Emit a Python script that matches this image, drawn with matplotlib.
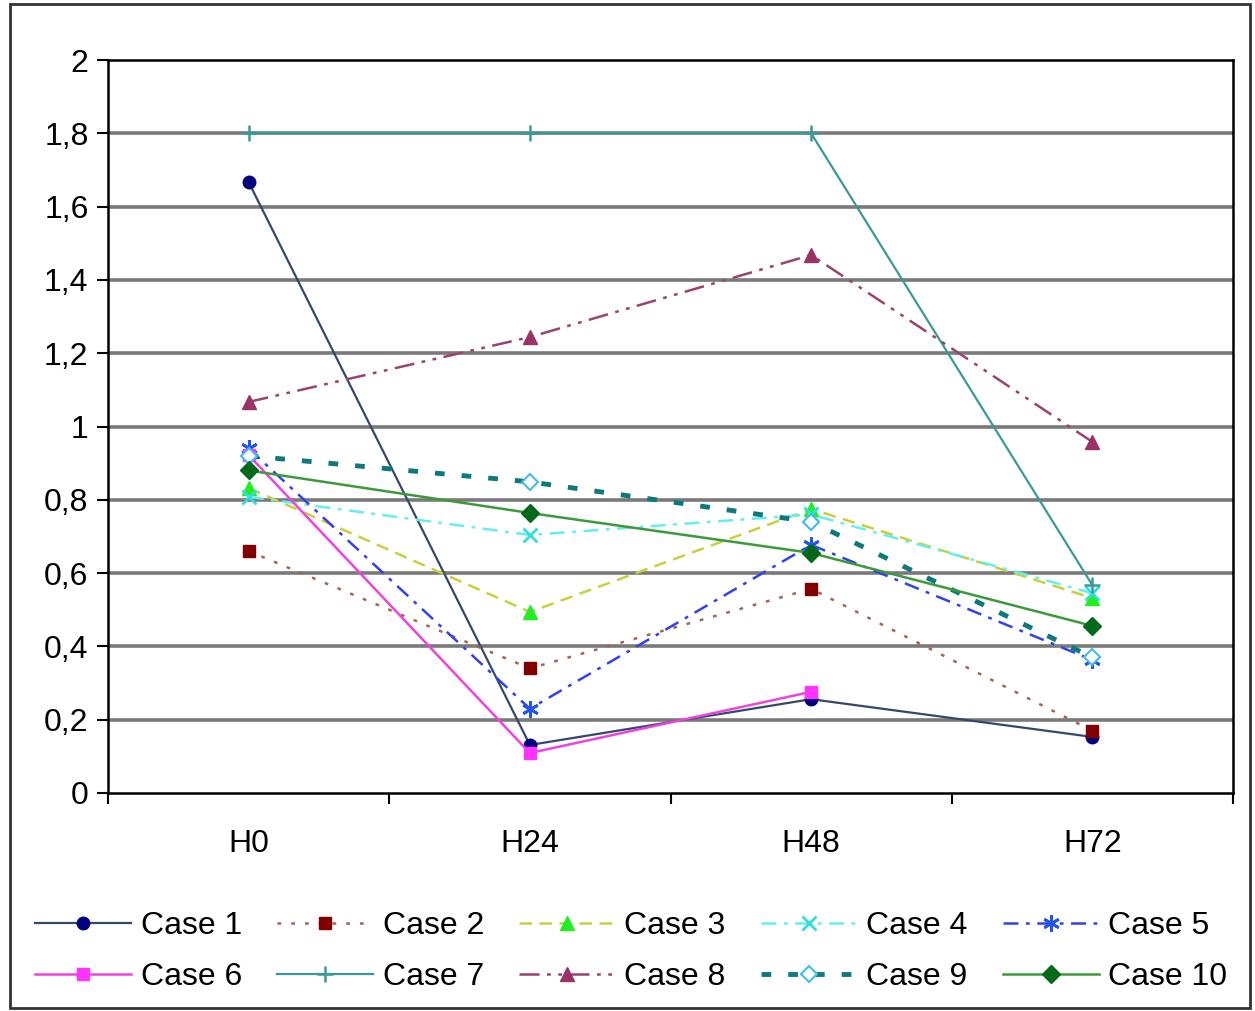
import numpy as np
import matplotlib
matplotlib.use('Agg')
import matplotlib.pyplot as plt
from matplotlib.patches import Rectangle

plt.rcParams['font.family'] = ['Liberation Sans', 'DejaVu Sans']

hours = ['H0', 'H24', 'H48', 'H72']
labels = ['Case 1', 'Case 2', 'Case 3', 'Case 4', 'Case 5',
          'Case 6', 'Case 7', 'Case 8', 'Case 9', 'Case 10']
case1 = [1.667, 0.131, 0.256, 0.153]
case2 = [0.66, 0.34, 0.557, 0.17]
case3 = [0.832, 0.494, 0.775, 0.532]
case4 = [0.808, 0.704, 0.76, 0.545]
case5 = [0.94, 0.23, 0.677, 0.363]
case6 = [0.922, 0.109, 0.276, np.nan]
case7 = [1.8, 1.8, 1.8, 0.567]
case8 = [1.067, 1.244, 1.468, 0.958]
case9 = [0.92, 0.849, 0.74, 0.37]
case10 = [0.88, 0.764, 0.655, 0.456]
yticks = [0, 0.2, 0.4, 0.6, 0.8, 1, 1.2, 1.4, 1.6, 1.8, 2]
ytick_labels = ['0', '0,2', '0,4', '0,6', '0,8', '1', '1,2', '1,4', '1,6', '1,8', '2']

series = [case1, case2, case3, case4, case5, case6, case7, case8, case9, case10]
styles = [
    dict(color='#34496a', ls='-', lw=1.6, marker='o', mfc='#000080', mec='#000080', ms=9),
    dict(color='#a0665a', ls=(0, (1.5, 4)), lw=1.8, marker='s', mfc='#800000', mec='#800000', ms=9),
    dict(color='#c8d03c', ls=(0, (5, 3)), lw=1.8, marker='^', mfc='#22ee22', mec='#22ee22', ms=10),
    dict(color='#66eeee', ls=(0, (6, 3, 1.5, 3)), lw=1.8, marker='x', mfc='#33dddd', mec='#33dddd', ms=10, mew=2),
    dict(color='#3340ee', ls=(0, (6, 3, 1.5, 3)), lw=1.8, marker=(6, 2, 0), mfc='#2255ee', mec='#2255ee', ms=12, mew=2),
    dict(color='#ee44dd', ls='-', lw=1.8, marker='s', mfc='#ff33ff', mec='#ff33ff', ms=9),
    dict(color='#3c9999', ls='-', lw=1.6, marker='+', mfc='#3c9999', mec='#3c9999', ms=12, mew=1.8),
    dict(color='#99446e', ls=(0, (8, 3, 1.5, 3, 1.5, 3)), lw=1.8, marker='^', mfc='#993366', mec='#993366', ms=10),
    dict(color='#0c7a7a', ls=(0, (2, 3.5)), lw=3.5, marker='D', mfc='white', mec='#44bbee', ms=8, mew=1.5),
    dict(color='#3c9a3c', ls='-', lw=1.8, marker='D', mfc='#006a1a', mec='#006a1a', ms=9),
]

fig = plt.figure(figsize=(12.55, 10.11), dpi=100, facecolor='white')
ax = fig.add_axes([108 / 1255, 1 - 793 / 1011, 1125 / 1255, 733 / 1011])
x = np.arange(len(hours))

for yv in yticks[1:-1]:
    ax.axhline(yv, color='#7a7a7a', lw=2.6, zorder=1)

lines = []
for vals, lab, st in zip(series, labels, styles):
    ln, = ax.plot(x, vals, label=lab, zorder=3, **st)
    lines.append(ln)

ax.set_xlim(-0.5, 3.5)
ax.set_ylim(0, 2)
ax.set_yticks(yticks)
ax.set_yticklabels(ytick_labels)
ax.set_xticks(x)
ax.set_xticklabels(hours)
ax.set_xticks(np.arange(-0.5, 4, 1), minor=True)
ax.tick_params(axis='x', which='major', length=0, pad=26, labelsize=23)
ax.tick_params(axis='x', which='minor', length=8, width=1.5, direction='out')
ax.tick_params(axis='y', length=8, width=1.5, direction='out', labelsize=23, pad=6)
for sp in ax.spines.values():
    sp.set_linewidth(1.8)
    sp.set_color('black')

# legend reads row by row in the original
order = [0, 5, 1, 6, 2, 7, 3, 8, 4, 9]
fig.legend([lines[i] for i in order], [labels[i] for i in order],
           loc='upper center', bbox_to_anchor=(0.503, 0.127), ncol=5, frameon=False,
           fontsize=23, handlelength=3.0, columnspacing=1.1, handletextpad=0.3,
           labelspacing=0.65)

fig.patches.append(Rectangle((10 / 1255, 3 / 1011), 1240 / 1255, 1004 / 1011,
                             transform=fig.transFigure, fill=False,
                             edgecolor='#333333', lw=2))

fig.savefig('out.png', dpi=100, facecolor='white')
